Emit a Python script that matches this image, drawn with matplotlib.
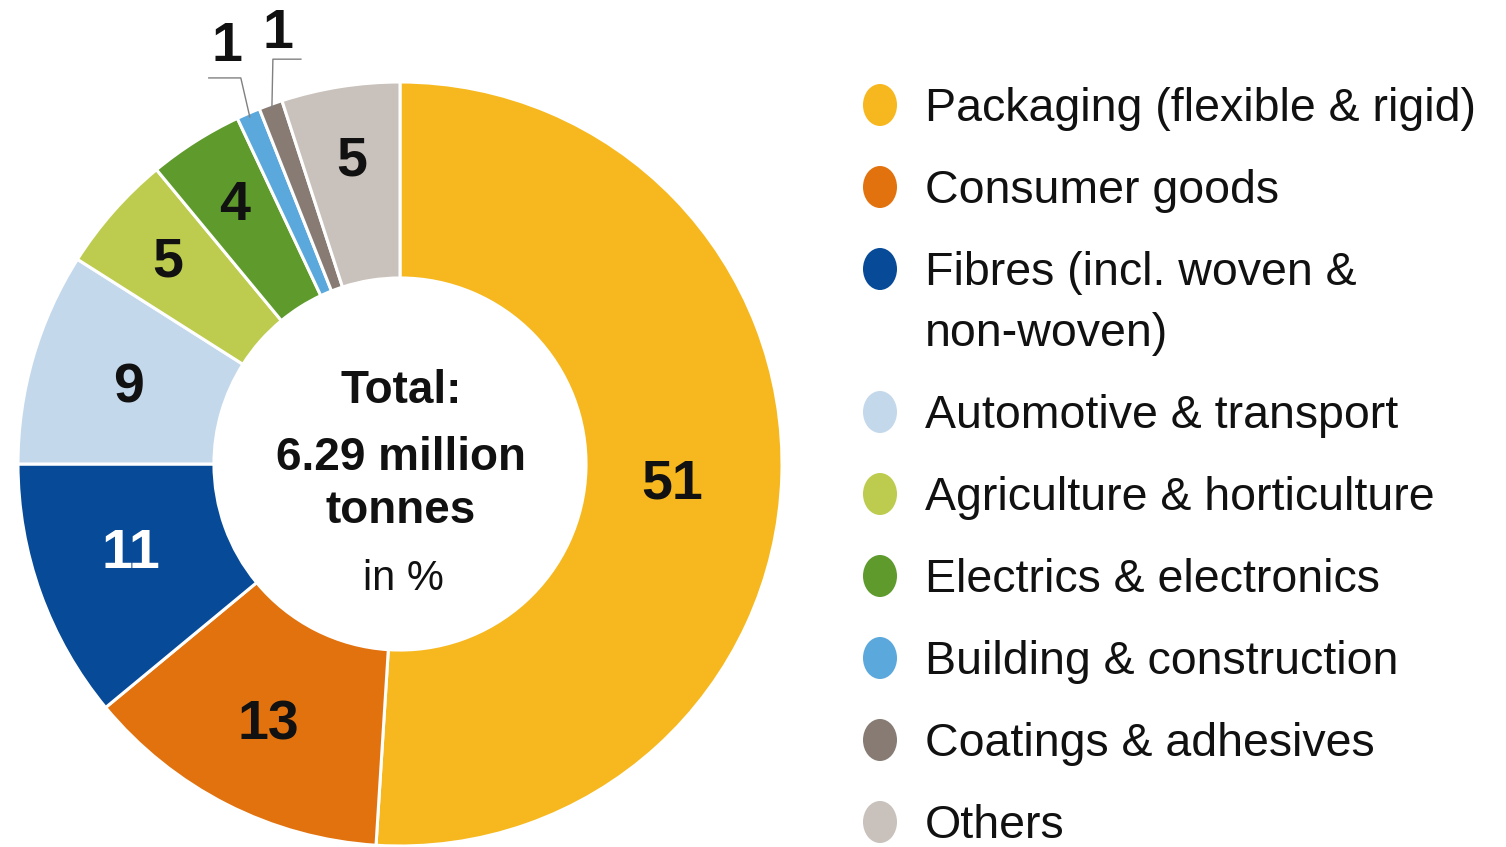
import numpy as np
import matplotlib.pyplot as plt
from matplotlib.patches import Ellipse
from matplotlib.colors import to_rgb

plt.rcParams['font.family'] = ['Liberation Sans', 'DejaVu Sans']

categories = ["Packaging (flexible & rigid)", "Consumer goods",
              "Fibres (incl. woven &\nnon-woven)", "Automotive & transport",
              "Agriculture & horticulture", "Electrics & electronics",
              "Building & construction", "Coatings & adhesives", "Others"]
shares = [51, 13, 11, 9, 5, 4, 1, 1, 5]
colors = ["#f6b81e", "#e2720e", "#064a98", "#c4d8ec", "#bdcc4e",
          "#5e9a2c", "#5aa8dc", "#877b74", "#c9c1bb"]
center_lines = ["Total:", "6.29 million", "tonnes"]
unit_line = "in %"

W, H = 1506, 847
fig = plt.figure(figsize=(W / 100, H / 100), dpi=100)
ax = fig.add_axes([0, 0, 1, 1])

# axes in pixel units with y pointing down; on a flipped y axis
# startangle=-90 + counterclock=True gives clockwise from 12 o'clock
cx, cy, R = 400, 464, 382
wedges, _ = ax.pie(shares, colors=colors, radius=R, center=(cx, cy),
                   startangle=-90, counterclock=True,
                   wedgeprops=dict(width=R * 0.513, edgecolor='white', linewidth=2.2))
ax.set_xlim(0, W)
ax.set_ylim(H, 0)
ax.set_aspect('equal')
ax.axis('off')

# value labels inside the ring (radius as fraction of R, small angle nudge)
label_r = [0.715, 0.76, 0.74, 0.74, 0.81, 0.81, None, None, 0.81]
label_da = [1.8, 0, 1.8, 0, 0, 0, 0, 0, 0]
for w, val, r, da, col in zip(wedges, shares, label_r, label_da, colors):
    if r is None:
        continue
    a = np.radians((w.theta1 + w.theta2) / 2 + da)
    lum = np.dot(to_rgb(col), [0.299, 0.587, 0.114])
    ax.text(cx + r * R * np.cos(a), cy + r * R * np.sin(a) - 3, str(val),
            fontsize=40, fontweight='bold', ha='center', va='center_baseline',
            color='white' if lum < 0.4 else '#111111')

# tiny slices get a leader line: anchor -> elbow -> end, number above
leaders = {6: ((-9, -39), (-41, -39), (-14, -37)),
           7: ((1, -49), (29, -49), (5, -31))}
for i, (elbow, end, txt) in leaders.items():
    w = wedges[i]
    a = np.radians((w.theta1 + w.theta2) / 2)
    x0, y0 = cx + 0.99 * R * np.cos(a), cy + 0.99 * R * np.sin(a)
    ex, ey = x0 + elbow[0], y0 + elbow[1]
    ax.plot([x0, ex, x0 + end[0]], [y0, ey, y0 + end[1]], color='#808080', lw=1)
    ax.text(ex + txt[0], ey + txt[1], str(shares[i]), fontsize=40,
            fontweight='bold', ha='center', va='center_baseline', color='#111111')

# centre caption
for line, yb in zip(center_lines, [403, 470, 523]):
    ax.text(401, yb, line, fontsize=33, fontweight='bold', ha='center',
            va='baseline', color='#111111')
ax.text(403, 590, unit_line, fontsize=30, ha='center', va='baseline', color='#111111')

# legend
lx, ly, step, line_gap = 880, 105, 82, 61
extra = 0
for i, (lab, col) in enumerate(zip(categories, colors)):
    y = ly + step * i + line_gap * extra
    ax.add_patch(Ellipse((lx, y), 34, 42, color=col, lw=0))
    for k, part in enumerate(lab.split("\n")):
        ax.text(925, y + 16 + line_gap * k, part, fontsize=33.5, ha='left',
                va='baseline', color='#111111')
    extra += lab.count("\n")

fig.savefig("out.png", dpi=100, facecolor='white')
